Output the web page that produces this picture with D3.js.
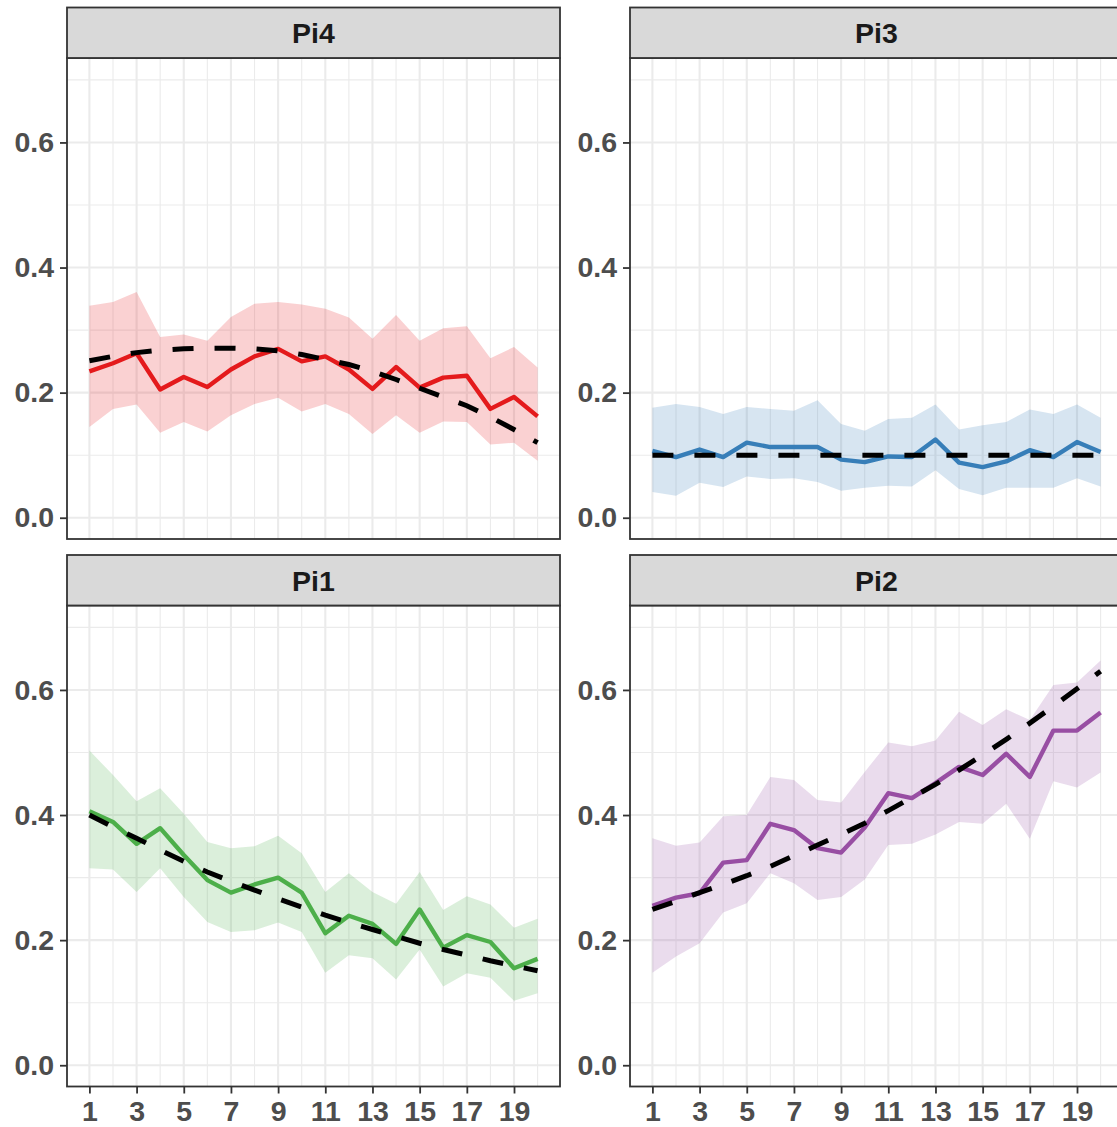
<!DOCTYPE html>
<html>
<head>
<meta charset="utf-8">
<script src="https://cdn.jsdelivr.net/npm/d3@7"></script>
<style>
  body { margin: 0; background: #fff; }
  svg { display: block; font-family: "Liberation Sans", Arial, sans-serif; }
</style>
</head>
<body>
<div id="chart"></div>
<script>
// x positions (steps)
const steps = [1,2,3,4,5,6,7,8,9,10,11,12,13,14,15,16,17,18,19,20];
const xTicks = [1,3,5,7,9,11,13,15,17,19];
const yTicks = [0, 0.2, 0.4, 0.6];

const panelNames = ["Pi4", "Pi3", "Pi1", "Pi2"];
const panelColors = ["#E41A1C", "#377EB8", "#4DAF4A", "#984EA3"];

const pi4Mean  = [0.234,0.247,0.263,0.205,0.225,0.209,0.237,0.258,0.270,0.250,0.258,0.237,0.206,0.241,0.208,0.224,0.227,0.174,0.193,0.162];
const pi4Upper = [0.339,0.345,0.361,0.289,0.293,0.283,0.321,0.342,0.345,0.341,0.334,0.320,0.286,0.324,0.283,0.303,0.306,0.255,0.273,0.240];
const pi4Lower = [0.145,0.174,0.181,0.136,0.153,0.138,0.164,0.182,0.192,0.170,0.182,0.166,0.134,0.164,0.136,0.154,0.153,0.117,0.120,0.091];
const pi4Trend = [0.251,0.258,0.264,0.268,0.270,0.271,0.271,0.270,0.267,0.261,0.253,0.245,0.234,0.221,0.207,0.193,0.179,0.161,0.141,0.120];

const pi3Mean  = [0.107,0.097,0.109,0.097,0.120,0.113,0.113,0.113,0.093,0.089,0.098,0.097,0.125,0.088,0.081,0.090,0.108,0.097,0.121,0.105];
const pi3Upper = [0.176,0.182,0.177,0.166,0.177,0.174,0.171,0.188,0.150,0.139,0.158,0.160,0.181,0.141,0.148,0.153,0.173,0.166,0.181,0.160];
const pi3Lower = [0.041,0.035,0.056,0.049,0.066,0.062,0.063,0.057,0.043,0.048,0.051,0.050,0.076,0.046,0.036,0.048,0.048,0.048,0.063,0.050];
const pi3Trend = [0.100,0.100,0.100,0.100,0.100,0.100,0.100,0.100,0.100,0.100,0.100,0.100,0.100,0.100,0.100,0.100,0.100,0.100,0.100,0.100];

const pi1Mean  = [0.406,0.389,0.354,0.379,0.336,0.296,0.276,0.289,0.300,0.276,0.211,0.239,0.226,0.194,0.249,0.188,0.208,0.197,0.155,0.170];
const pi1Upper = [0.503,0.464,0.422,0.443,0.402,0.357,0.347,0.350,0.367,0.339,0.277,0.307,0.277,0.258,0.309,0.248,0.270,0.257,0.220,0.234];
const pi1Lower = [0.315,0.313,0.277,0.315,0.269,0.229,0.213,0.216,0.228,0.213,0.148,0.176,0.171,0.137,0.185,0.126,0.147,0.140,0.103,0.115];
const pi1Trend = [0.400,0.381,0.363,0.344,0.326,0.309,0.294,0.280,0.266,0.253,0.240,0.228,0.217,0.206,0.195,0.185,0.176,0.167,0.159,0.151];

const pi2Mean  = [0.255,0.268,0.275,0.324,0.328,0.386,0.376,0.347,0.340,0.380,0.435,0.427,0.451,0.477,0.464,0.498,0.461,0.535,0.535,0.564];
const pi2Upper = [0.363,0.351,0.356,0.398,0.400,0.461,0.456,0.424,0.420,0.469,0.516,0.510,0.519,0.565,0.544,0.569,0.552,0.608,0.612,0.647];
const pi2Lower = [0.148,0.174,0.195,0.244,0.259,0.307,0.291,0.264,0.269,0.297,0.352,0.354,0.369,0.389,0.386,0.418,0.362,0.454,0.444,0.468];
const pi2Trend = [0.249,0.262,0.276,0.289,0.303,0.318,0.335,0.352,0.369,0.387,0.407,0.428,0.449,0.472,0.496,0.521,0.547,0.574,0.602,0.630];

const panelData = [
    { mean: pi4Mean, upper: pi4Upper, lower: pi4Lower, trend: pi4Trend },
    { mean: pi3Mean, upper: pi3Upper, lower: pi3Lower, trend: pi3Trend },
    { mean: pi1Mean, upper: pi1Upper, lower: pi1Lower, trend: pi1Trend },
    { mean: pi2Mean, upper: pi2Upper, lower: pi2Lower, trend: pi2Trend }
];

const width = 1117, height = 1127;
const colLeft = [67, 630];
const stripTop = [7.5, 555];
const stripH = 50.5;
const panelW = 493, panelH = 481;

const svg = d3.select("#chart").append("svg")
    .attr("width", width)
    .attr("height", height);

const xScale = d3.scaleLinear().domain([0.05, 20.95]).range([0, panelW]);
const yScale = d3.scaleLinear().domain([-0.034, 0.735]).range([panelH, 0]);

const area = d3.area()
    .x((d, i) => xScale(steps[i]))
    .y0(d => yScale(d[0]))
    .y1(d => yScale(d[1]));

const line = d3.line()
    .x((d, i) => xScale(steps[i]))
    .y(d => yScale(d));

panelNames.forEach((name, p) => {
    const col = p % 2, row = Math.floor(p / 2);
    const left = colLeft[col];
    const top = stripTop[row] + stripH;
    const data = panelData[p];
    const color = panelColors[p];

    const g = svg.append("g").attr("transform", `translate(${left},${top})`);

    // grid
    const xMinor = d3.range(2, 21, 2);
    const yMinor = [0.1, 0.3, 0.5, 0.7];
    g.selectAll(".ymin").data(yMinor).enter().append("line")
        .attr("x1", 0).attr("x2", panelW)
        .attr("y1", d => yScale(d)).attr("y2", d => yScale(d))
        .style("stroke", "#ebebeb").style("stroke-width", 1.1);
    g.selectAll(".xmin").data(xMinor).enter().append("line")
        .attr("x1", d => xScale(d)).attr("x2", d => xScale(d))
        .attr("y1", 0).attr("y2", panelH)
        .style("stroke", "#ebebeb").style("stroke-width", 1.1);
    g.selectAll(".ymaj").data(yTicks).enter().append("line")
        .attr("x1", 0).attr("x2", panelW)
        .attr("y1", d => yScale(d)).attr("y2", d => yScale(d))
        .style("stroke", "#ebebeb").style("stroke-width", 2.1);
    g.selectAll(".xmaj").data(xTicks).enter().append("line")
        .attr("x1", d => xScale(d)).attr("x2", d => xScale(d))
        .attr("y1", 0).attr("y2", panelH)
        .style("stroke", "#ebebeb").style("stroke-width", 2.1);

    // ribbon
    g.append("path")
        .datum(data.lower.map((d, i) => [d, data.upper[i]]))
        .attr("fill", color)
        .attr("fill-opacity", 0.2)
        .attr("d", area);

    // mean line
    g.append("path")
        .datum(data.mean)
        .attr("fill", "none")
        .attr("stroke", color)
        .attr("stroke-width", 4.4)
        .attr("stroke-linejoin", "round")
        .attr("d", line);

    // trend
    g.append("path")
        .datum(data.trend)
        .attr("fill", "none")
        .attr("stroke", "#000")
        .attr("stroke-width", 5)
        .attr("stroke-dasharray", "21 21")
        .attr("d", line);

    // border
    g.append("rect")
        .attr("x", 0).attr("y", 0)
        .attr("width", panelW).attr("height", panelH)
        .attr("fill", "none")
        .attr("stroke", "#333333")
        .attr("stroke-width", 1.8);

    // strip
    const s = svg.append("g").attr("transform", `translate(${left},${stripTop[row]})`);
    s.append("rect")
        .attr("width", panelW).attr("height", stripH)
        .attr("fill", "#d9d9d9")
        .attr("stroke", "#333333")
        .attr("stroke-width", 1.8);
    s.append("text")
        .attr("x", panelW / 2)
        .attr("y", stripH / 2)
        .attr("dy", "0.36em")
        .attr("text-anchor", "middle")
        .style("font-size", "28.5px")
        .style("font-weight", "bold")
        .style("fill", "#1a1a1a")
        .text(name);

    // y axis
    const yAxis = d3.axisLeft(yScale)
        .tickValues(yTicks)
        .tickSize(7)
        .tickPadding(6)
        .tickFormat(d3.format(".1f"));
    const ya = g.append("g").call(yAxis);
    ya.select(".domain").remove();
    ya.selectAll("line").style("stroke", "#333333").style("stroke-width", 1.8);
    ya.selectAll("text")
        .style("fill", "#4d4d4d")
        .style("font-size", "28.5px")
        .style("font-weight", "bold")
        .style("font-family", "'Liberation Sans', Arial, sans-serif");

    // x axis only on bottom row
    if (row === 1) {
        const xAxis = d3.axisBottom(xScale)
            .tickValues(xTicks)
            .tickSize(7)
            .tickPadding(7);
        const xa = g.append("g")
            .attr("transform", `translate(0,${panelH})`)
            .call(xAxis);
        xa.select(".domain").remove();
        xa.selectAll("line").style("stroke", "#333333").style("stroke-width", 1.8);
        xa.selectAll("text")
            .style("fill", "#4d4d4d")
            .style("font-size", "28.5px")
            .style("font-weight", "bold")
            .style("font-family", "'Liberation Sans', Arial, sans-serif");
    }
});
</script>
</body>
</html>
